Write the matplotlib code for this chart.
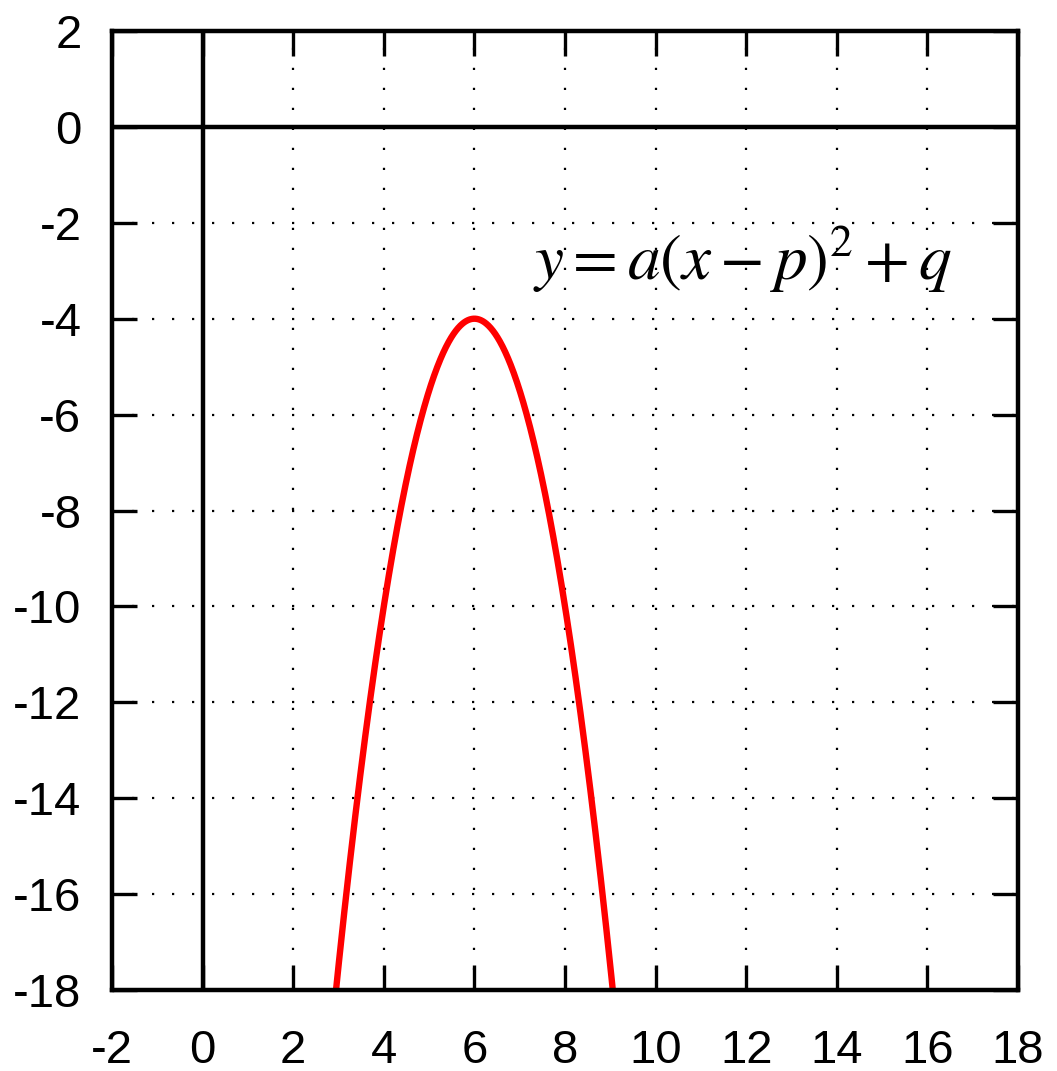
import numpy as np
import matplotlib
matplotlib.use("Agg")
import matplotlib.pyplot as plt

# Parabola y = a(x - p)^2 + q
a_coef = -1.5
p_shift = 6.0
q_shift = -4.0

x_ticks = [-2, 0, 2, 4, 6, 8, 10, 12, 14, 16, 18]
y_ticks = [-18, -16, -14, -12, -10, -8, -6, -4, -2, 0, 2]

plt.rcParams['mathtext.fontset'] = 'stix'
plt.rcParams['font.family'] = ['Liberation Sans', 'DejaVu Sans']

fig = plt.figure(figsize=(10.57, 10.71), dpi=100)
ax = fig.add_axes([112 / 1057, 1 - 990 / 1071, (1018 - 112) / 1057, (990 - 31) / 1071])

x = np.linspace(-2, 18, 2001)
y = a_coef * (x - p_shift) ** 2 + q_shift
ax.plot(x, y, color='#ff0000', lw=4.6, solid_capstyle='butt', zorder=4)

ax.axhline(0, color='black', lw=3.2, zorder=3)
ax.axvline(0, color='black', lw=3.2, zorder=3)

ax.set_xlim(-2, 18)
ax.set_ylim(-18, 2)
ax.set_xticks(x_ticks)
ax.set_yticks(y_ticks)
ax.set_xticklabels([str(v) for v in x_ticks])
ax.set_yticklabels([str(v) for v in y_ticks])

ax.grid(True, color='black', linestyle=(0, (1, 8)), lw=1.6, zorder=1)
ax.tick_params(direction='in', length=18, width=2.4, labelsize=34,
               top=True, right=True, colors='black')
ax.tick_params(axis='y', pad=22)
ax.tick_params(axis='x', pad=28)
for s in ax.spines.values():
    s.set_linewidth(3.2)
    s.set_zorder(5)

ax.text(0.6965, 0.762, r'$y = a\left(x - p\right)^2 + q$', transform=ax.transAxes,
        ha='center', va='center', fontsize=47, zorder=6)

fig.savefig('out.png', dpi=100)
